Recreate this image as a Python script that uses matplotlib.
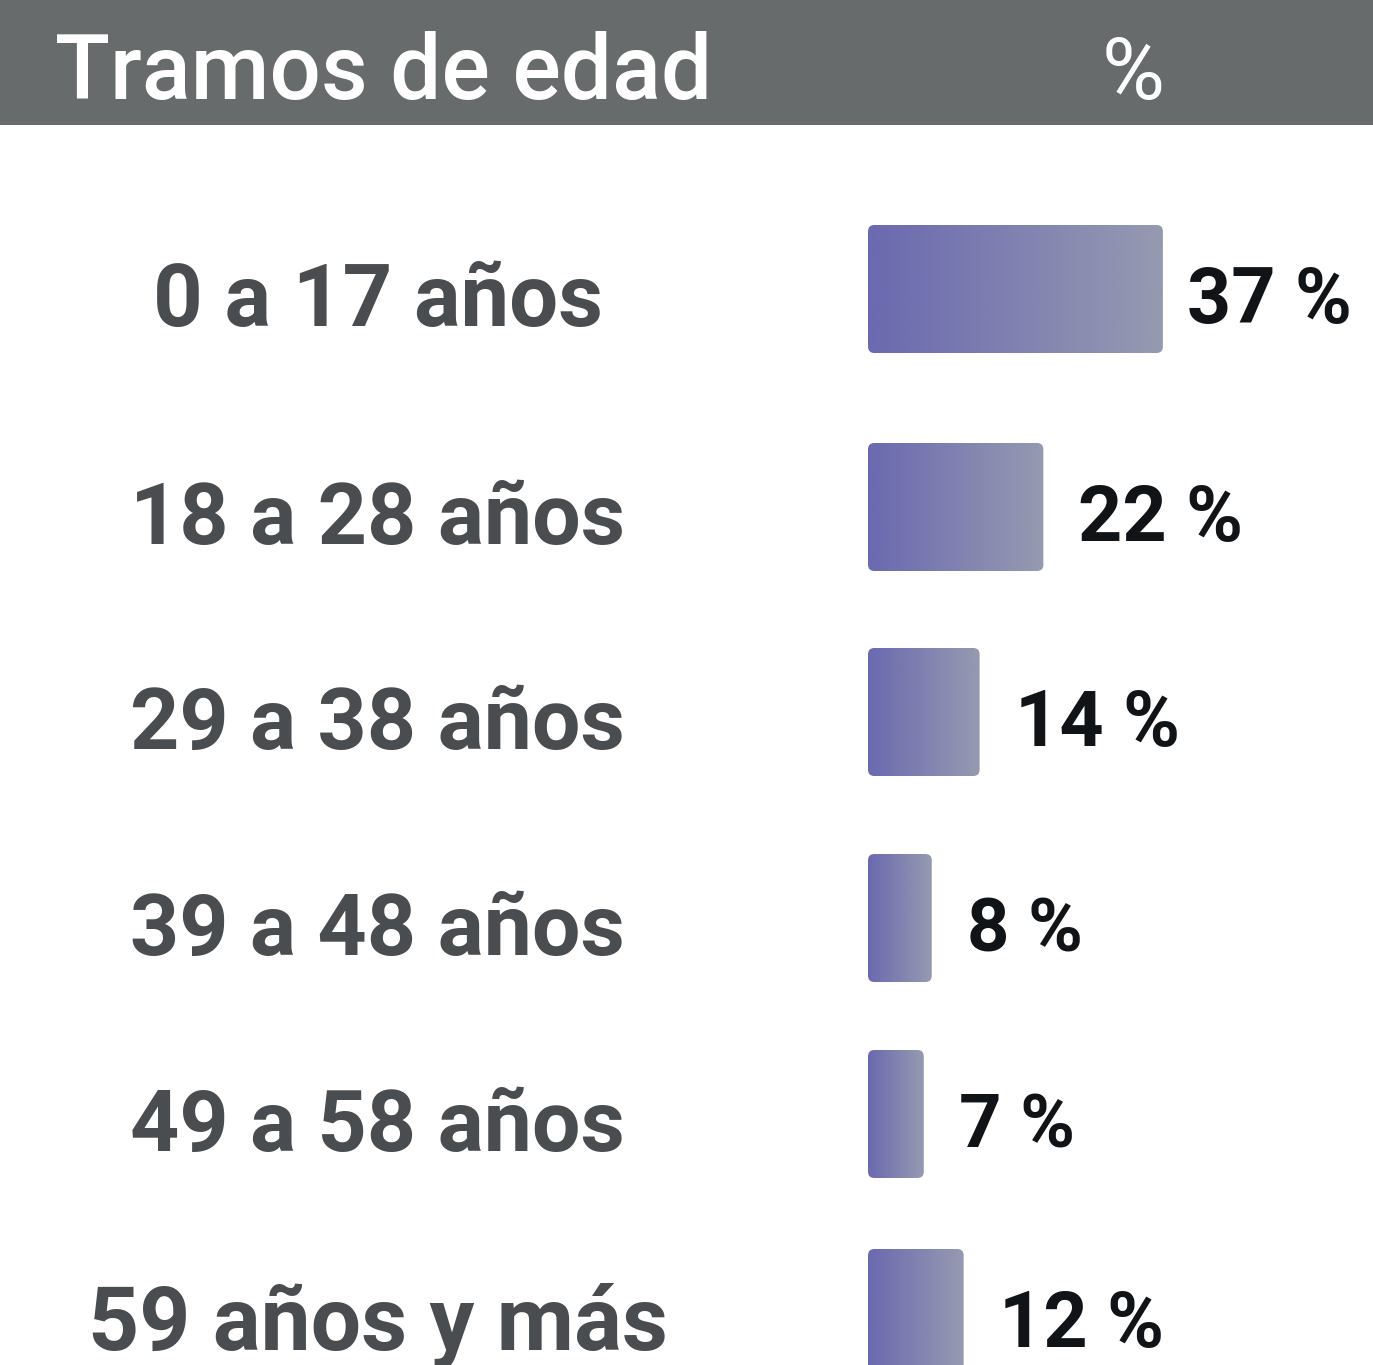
import numpy as np
import matplotlib.pyplot as plt
from matplotlib.patches import Rectangle, FancyBboxPatch

# --- Datos ---
tramos = ['0 a 17 años', '18 a 28 años', '29 a 38 años', '39 a 48 años',
          '49 a 58 años', '59 años y más']
porcentajes = [37, 22, 14, 8, 7, 12]

# posiciones verticales (pixeles desde arriba)
y_pos = [289, 507, 712, 918, 1114, 1313]

fuente = ['Roboto', 'DejaVu Sans']

W, H = 1373, 1365
fig = plt.figure(figsize=(W / 100, H / 100), dpi=100)
ax = fig.add_axes([0, 0, 1, 1])
px_pct = 7.97
ax.set_xlim(-868 / px_pct, (W - 868) / px_pct)
ax.set_ylim(H, 0)
ax.axis('off')
rend = fig.canvas.get_renderer()


def ajustar(t, ancho):
    # escala el tamaño de letra para que el texto ocupe 'ancho' pixeles
    w = t.get_window_extent(rend).width
    t.set_fontsize(t.get_fontsize() * ancho / w)


# --- Cabecera ---
fig.patches.append(Rectangle((0, 1 - 125 / H), 1, 125 / H, transform=fig.transFigure,
                             facecolor='#676B6C', edgecolor='none', zorder=0))
t = fig.text(55 / W, 1 - 99 / H, 'Tramos de edad', color='white', fontsize=60,
             family=fuente, fontweight='medium', ha='left', va='baseline')
ajustar(t, 658)
fig.text(1133 / W, 1 - 99 / H, '%', color='white', fontsize=t.get_fontsize() * 0.95,
         family=fuente, ha='center', va='baseline')

# --- Barras con degradado ---
grad = np.linspace(0, 1, 256).reshape(1, -1)
c0 = np.array([0x6B, 0x69, 0xB0]) / 255
c1 = np.array([0x96, 0x9A, 0xB0]) / 255
img = c0 + (c1 - c0) * grad[..., None]
alto = 128

for nombre, val, y in zip(tramos, porcentajes, y_pos):
    caja = FancyBboxPatch((0, y - alto / 2), val, alto,
                          boxstyle='round,pad=0,rounding_size=0.8',
                          mutation_aspect=8, facecolor='none', edgecolor='none')
    ax.add_patch(caja)
    im = ax.imshow(img, extent=[0, val, y + alto / 2, y - alto / 2], aspect='auto',
                   interpolation='bilinear', zorder=2)
    im.set_clip_path(caja)
    t = ax.text(-61.5, y + 37, nombre, ha='center', va='baseline', fontsize=60,
                color='#4A4D4F', family=fuente, fontweight='bold')
    ajustar(t, 450 if nombre == tramos[0] else (580 if nombre == tramos[-1] else 495))
    gap = 3.0 if val == 37 else 4.4
    t = ax.text(val + gap, y + 34, f'{val} %', ha='left', va='baseline', fontsize=60,
                color='#111417', family=fuente, fontweight='bold')
    ajustar(t, 165 if val >= 10 else 116)

plt.savefig('out.png', dpi=100)
